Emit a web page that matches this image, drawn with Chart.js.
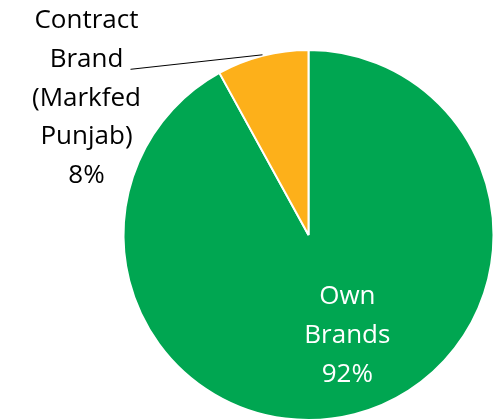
<!DOCTYPE html>
<html>
<head>
<meta charset="utf-8">
<script src="https://cdn.jsdelivr.net/npm/chart.js@4/dist/chart.umd.min.js"></script>
<style>
  html, body { margin: 0; padding: 0; background: #fff; overflow: hidden; }
  #wrap { position: relative; width: 498px; height: 430px; }
</style>
</head>
<body>
<div id="wrap"><canvas id="pie" width="498" height="430"></canvas></div>
<script>
// share of products by brand type
const labels = ["Own Brands", "Contract Brand (Markfed Punjab)"];
const shares = [92, 8];
const labelLines = [["Own", "Brands", "92%"], ["Contract", "Brand", "(Markfed", "Punjab)", "8%"]];
const colors = ["#00A651", "#FDB01A"];

const FONT = "26px 'Open Sans', sans-serif";
const LINE_H = 38.8;

// draws the slice labels like the Excel data labels
const sliceLabels = {
    id: "sliceLabels",
    afterDatasetsDraw(chart) {
        const ctx = chart.ctx;
        const arcs = chart.getDatasetMeta(0).data;
        ctx.save();
        ctx.font = FONT;
        ctx.textAlign = "center";
        ctx.textBaseline = "middle";

        // inside label, big slice
        const a0 = arcs[0];
        const r = a0.outerRadius;
        let x = a0.x + 0.21 * r;
        let y = a0.y + 0.545 * r;
        ctx.fillStyle = "#fff";
        labelLines[0].forEach((t, i) => ctx.fillText(t, x, y + (i - 1) * LINE_H));

        // outside label with leader line, small slice
        const a1 = arcs[1];
        const mid = (a1.startAngle + a1.endAngle) / 2;
        const ex = a1.x + Math.cos(mid) * r;
        const ey = a1.y + Math.sin(mid) * r;
        x = a1.x - 1.2 * r;
        y = a1.y - 0.74 * r;
        ctx.fillStyle = "#000";
        labelLines[1].forEach((t, i) => ctx.fillText(t, x, y + (i - 2) * LINE_H));

        ctx.strokeStyle = "#000";
        ctx.lineWidth = 1;
        ctx.beginPath();
        ctx.moveTo(x + 44, y - LINE_H + 10);
        ctx.lineTo(ex, ey - 1);
        ctx.stroke();
        ctx.restore();
    }
};

new Chart(document.getElementById("pie"), {
    type: "pie",
    data: {
        labels: labels,
        datasets: [{
            data: shares,
            backgroundColor: colors,
            borderColor: "#fff",
            borderWidth: 2
        }]
    },
    options: {
        responsive: false,
        animation: false,
        layout: { padding: { left: 122, right: 3, top: 49, bottom: 9 } },
        plugins: {
            legend: { display: false },
            tooltip: { enabled: false }
        }
    },
    plugins: [sliceLabels]
});
</script>
</body>
</html>
